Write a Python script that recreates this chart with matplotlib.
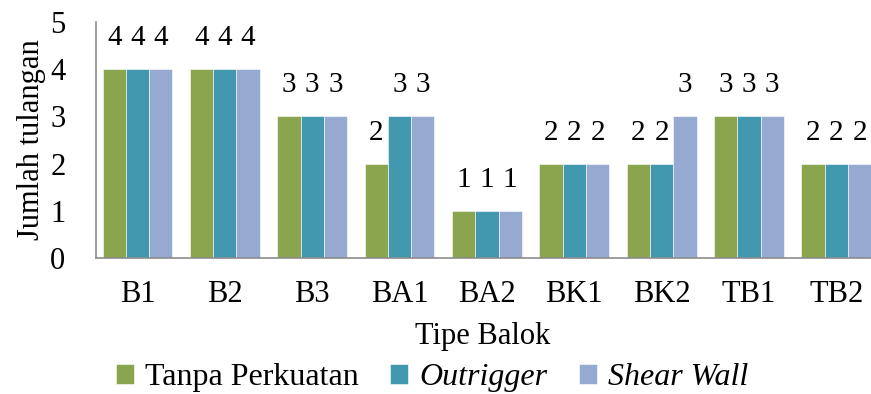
import matplotlib
matplotlib.use("Agg")
import matplotlib.pyplot as plt
import numpy as np

categories = ["B1", "B2", "B3", "BA1", "BA2", "BK1", "BK2", "TB1", "TB2"]
tanpa = [4, 4, 3, 2, 1, 2, 2, 3, 2]
outrigger = [4, 4, 3, 3, 1, 2, 2, 3, 2]
shear_wall = [4, 4, 3, 3, 1, 2, 3, 3, 2]
series_names = ["Tanpa Perkuatan", "Outrigger", "Shear Wall"]
colors = ["#8AA54E", "#4298AF", "#95A9D1"]

plt.rcParams["font.family"] = ["Liberation Serif", "DejaVu Serif"]

W, H = 871, 394
fig = plt.figure(figsize=(W / 100, H / 100), dpi=100)
ax = fig.add_axes([96 / W, 1 - 258 / H, (880 - 96) / W, 236 / H])

x = np.arange(len(categories))
w = 0.8 / 3
for i, vals in enumerate([tanpa, outrigger, shear_wall]):
    xs = x + (i - 1) * w
    ax.bar(xs, vals, width=w, color=colors[i], edgecolor="white",
           linewidth=0.4, label=series_names[i])
    for xi, v in zip(xs, vals):
        ax.annotate(str(v), (xi, v), xytext=(0, 13), textcoords="offset points",
                    ha="center", va="bottom", fontsize=21)

ax.set_xlim(-0.475, len(categories) - 0.5)
ax.set_ylim(0, 5)
ax.set_yticks(range(6))
ax.set_xticks(x)
ax.set_xticklabels(categories)
ax.tick_params(axis="both", length=0, labelsize=22)
ax.tick_params(axis="x", pad=16)
ax.tick_params(axis="y", pad=22)
for s in ["top", "right"]:
    ax.spines[s].set_visible(False)
for s in ["left", "bottom"]:
    ax.spines[s].set_color("#8C8C8C")
    ax.spines[s].set_linewidth(1.2)

ax.set_ylabel("Jumlah tulangan", fontsize=22, labelpad=3)
ax.set_xlabel("Tipe Balok", fontsize=22, labelpad=10)
ax.xaxis.set_label_coords((483 - 96) / (880 - 96), -0.27)

handles, labels = ax.get_legend_handles_labels()
leg = fig.legend(handles, labels, loc="lower left", bbox_to_anchor=(116 / W, 0.004),
                 ncol=3, frameon=False, fontsize=23, handlelength=0.55,
                 handleheight=0.6, handletextpad=0.35, columnspacing=1.0,
                 borderpad=0, borderaxespad=0)
for t in leg.get_texts()[1:]:
    t.set_fontstyle("italic")

fig.savefig("out.png", dpi=100)
